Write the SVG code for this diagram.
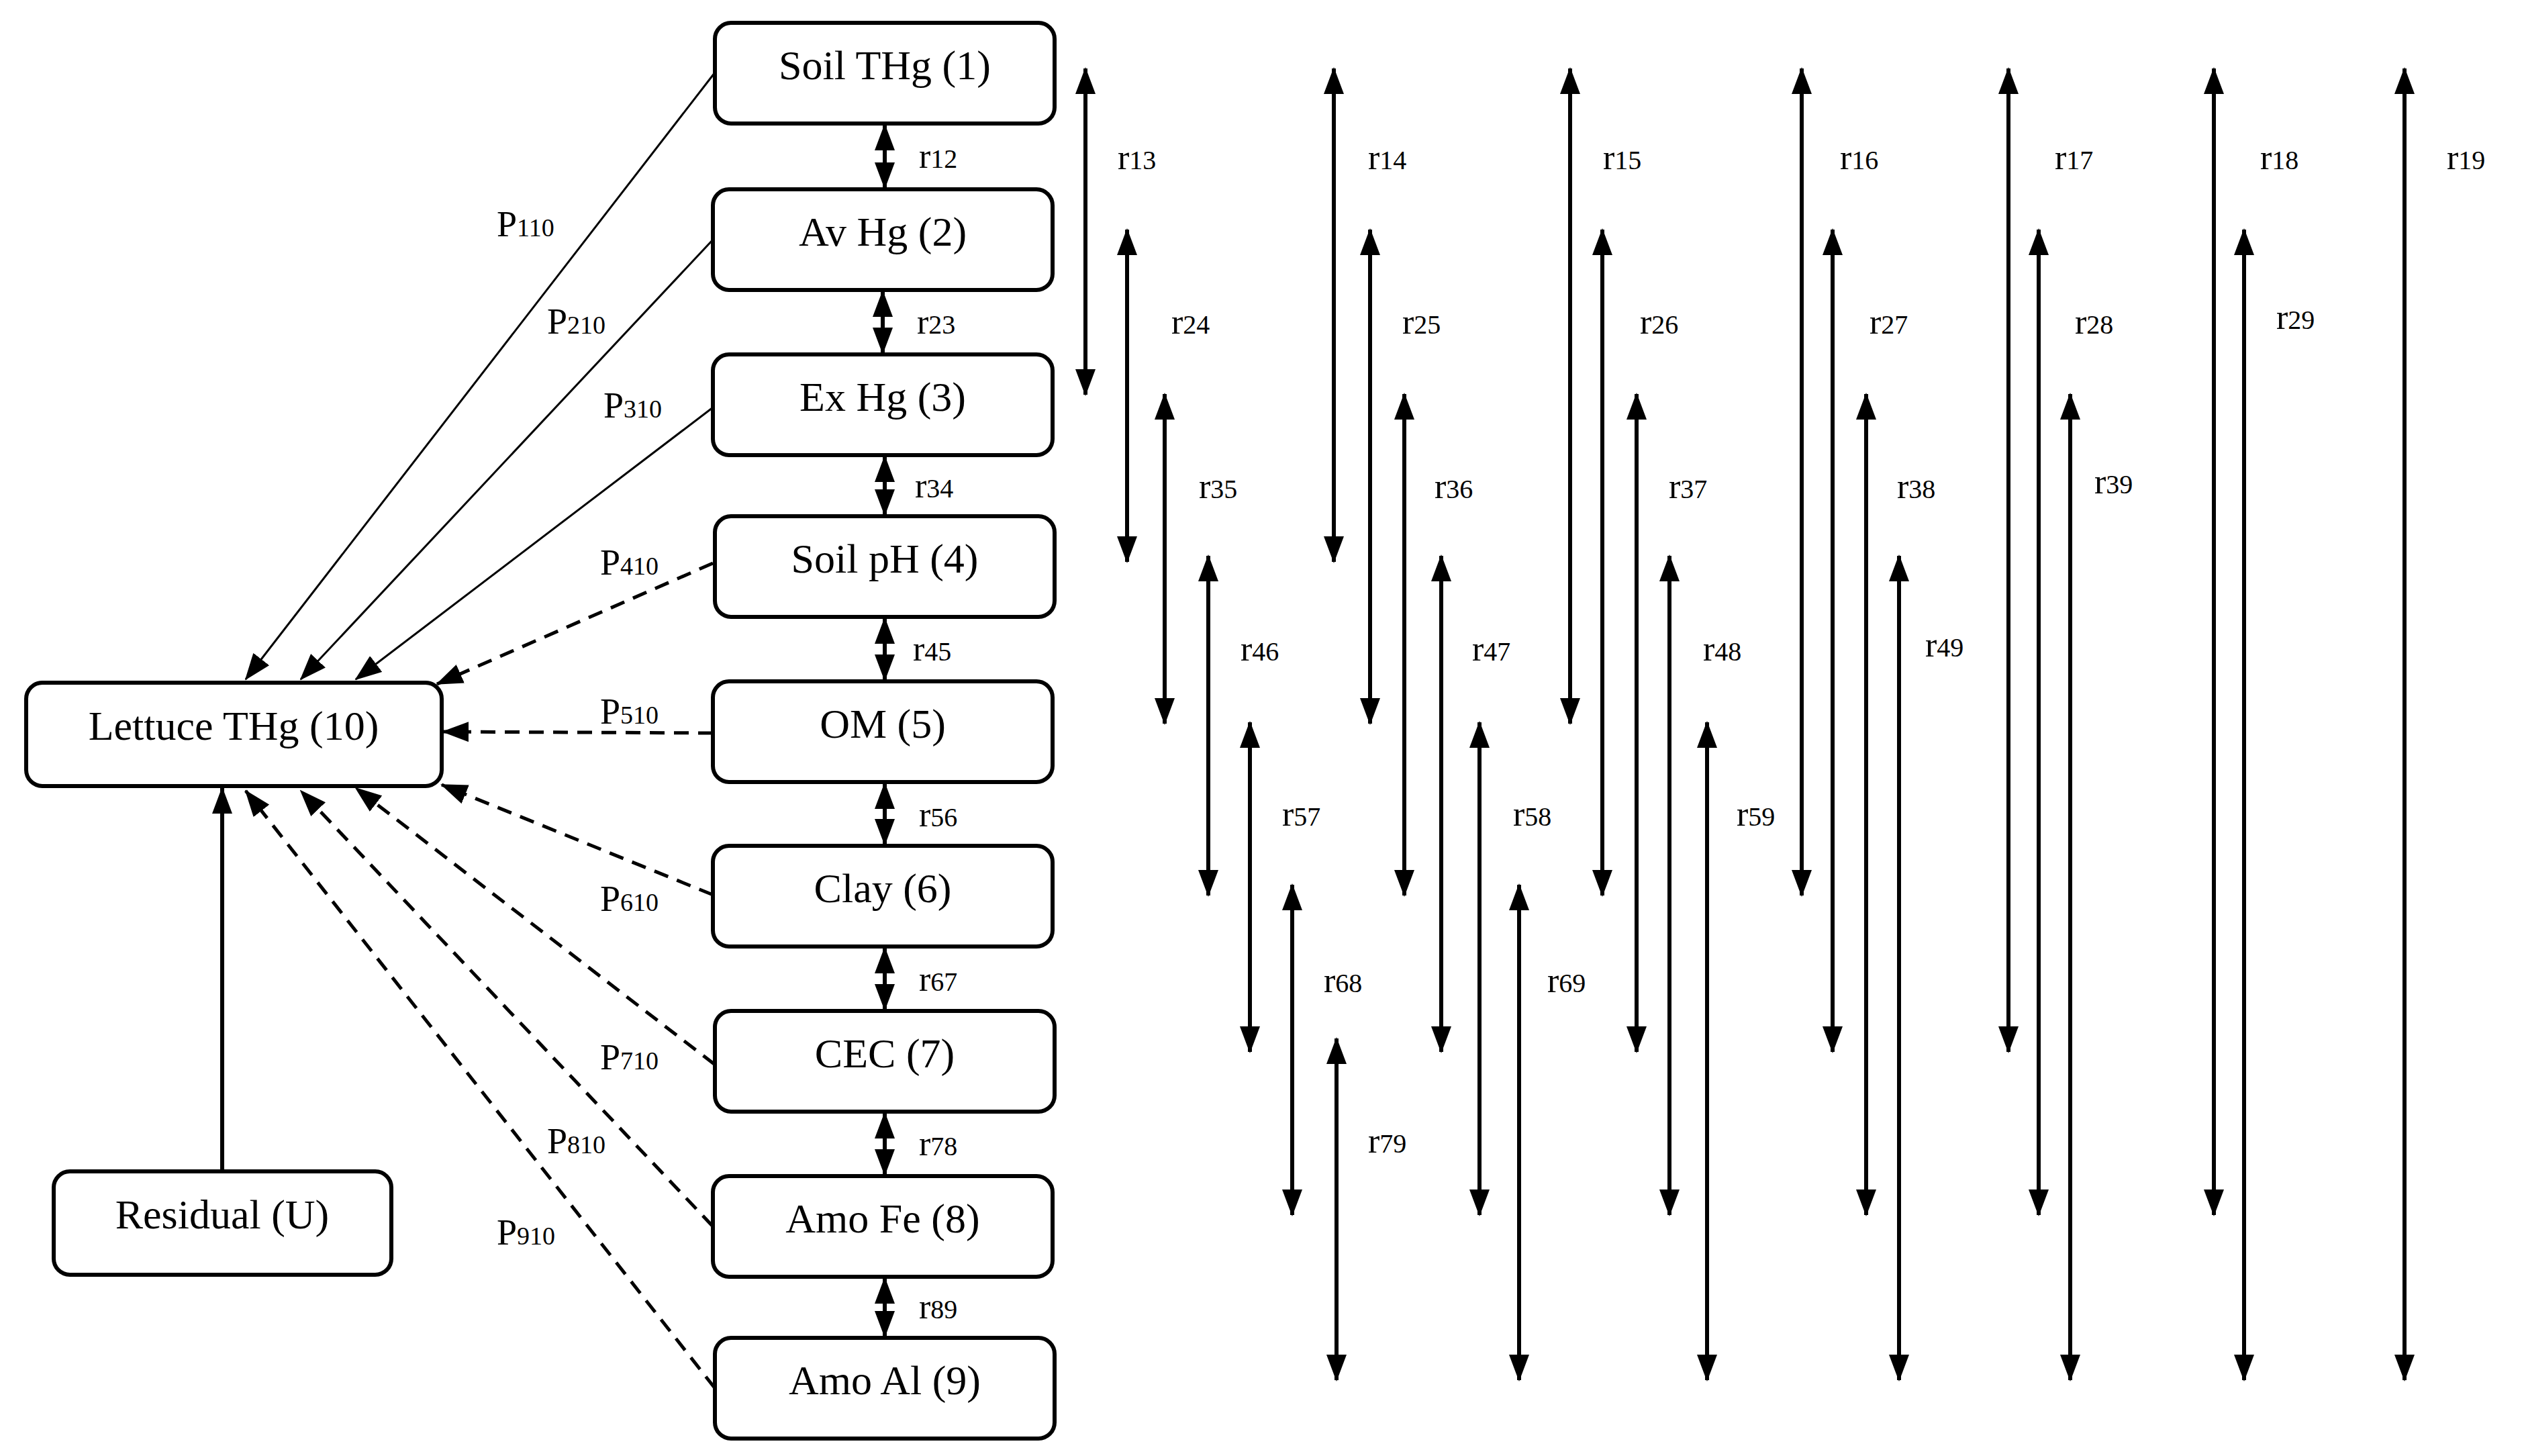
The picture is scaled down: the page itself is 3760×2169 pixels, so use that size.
<svg xmlns="http://www.w3.org/2000/svg" width="3760" height="2169" viewBox="0 0 3760 2169">
<style>
.n rect{fill:#fff;stroke:#000;stroke-width:6}
.n text{font-family:"Liberation Serif",serif;font-size:62px;text-anchor:middle;fill:#000}
.lbl{font-family:"Liberation Serif",serif;font-size:52px;fill:#000}
.lbl tspan{font-size:40px}
.pl{font-family:"Liberation Serif",serif;font-size:54px;fill:#000}
.pl tspan{font-size:38px}
.ar{stroke:#000;stroke-width:6;fill:none;marker-start:url(#ah);marker-end:url(#ah)}
.sl{stroke:#000;stroke-width:3;fill:none;marker-end:url(#ah)}
.dl{stroke:#000;stroke-width:5;stroke-dasharray:22 14;fill:none;marker-end:url(#ah)}
</style>
<defs>
<marker id="ah" viewBox="0 0 40 30" refX="38" refY="15" markerWidth="40" markerHeight="30" orient="auto-start-reverse" markerUnits="userSpaceOnUse"><path d="M0,0 L40,15 L0,30 z" fill="#000"/></marker>
</defs>
<rect width="3760" height="2169" fill="#fff"/>
<g id="n1" class="n"><rect x="1065" y="34" width="506" height="150" rx="24"/><text x="1318" y="118">Soil THg (1)</text></g>
<g id="n2" class="n"><rect x="1062" y="282" width="506" height="150" rx="24"/><text x="1315" y="366">Av Hg (2)</text></g>
<g id="n3" class="n"><rect x="1062" y="528" width="506" height="150" rx="24"/><text x="1315" y="612">Ex Hg (3)</text></g>
<g id="n4" class="n"><rect x="1065" y="769" width="506" height="150" rx="24"/><text x="1318" y="853">Soil pH (4)</text></g>
<g id="n5" class="n"><rect x="1062" y="1015" width="506" height="150" rx="24"/><text x="1315" y="1099">OM (5)</text></g>
<g id="n6" class="n"><rect x="1062" y="1260" width="506" height="150" rx="24"/><text x="1315" y="1344">Clay (6)</text></g>
<g id="n7" class="n"><rect x="1065" y="1506" width="506" height="150" rx="24"/><text x="1318" y="1590">CEC (7)</text></g>
<g id="n8" class="n"><rect x="1062" y="1752" width="506" height="150" rx="24"/><text x="1315" y="1836">Amo Fe (8)</text></g>
<g id="n9" class="n"><rect x="1065" y="1993" width="506" height="150" rx="24"/><text x="1318" y="2077">Amo Al (9)</text></g>
<g id="n10" class="n"><rect x="39" y="1017" width="619" height="154" rx="24"/><text x="348" y="1102">Lettuce THg (10)</text></g>
<g id="nU" class="n"><rect x="80" y="1745" width="503" height="154" rx="24"/><text x="331" y="1830">Residual (U)</text></g>
<g id="connectors">
<line class="sl" x1="1065" y1="108" x2="366" y2="1012"/>
<line class="sl" x1="1062" y1="357" x2="448" y2="1012"/>
<line class="sl" x1="1062" y1="607" x2="530" y2="1012"/>
<line class="dl" x1="1062" y1="839" x2="651" y2="1019"/>
<line class="dl" x1="1062" y1="1092" x2="660" y2="1090"/>
<line class="dl" x1="1062" y1="1333" x2="658" y2="1169"/>
<line class="dl" x1="1065" y1="1586" x2="530" y2="1174"/>
<line class="dl" x1="1062" y1="1827" x2="448" y2="1178"/>
<line class="dl" x1="1065" y1="2068" x2="366" y2="1178"/>
<line class="sl" style="stroke-width:6" x1="331" y1="1745" x2="331" y2="1174"/>
<line class="ar" x1="1318" y1="186" x2="1318" y2="280"/>
<line class="ar" x1="1315" y1="434" x2="1315" y2="526"/>
<line class="ar" x1="1318" y1="680" x2="1318" y2="767"/>
<line class="ar" x1="1318" y1="921" x2="1318" y2="1013"/>
<line class="ar" x1="1318" y1="1167" x2="1318" y2="1258"/>
<line class="ar" x1="1318" y1="1412" x2="1318" y2="1504"/>
<line class="ar" x1="1318" y1="1658" x2="1318" y2="1750"/>
<line class="ar" x1="1318" y1="1904" x2="1318" y2="1991"/>
<line class="ar" x1="1617" y1="102" x2="1617" y2="588"/>
<line class="ar" x1="1987" y1="102" x2="1987" y2="837"/>
<line class="ar" x1="2339" y1="102" x2="2339" y2="1078"/>
<line class="ar" x1="2684" y1="102" x2="2684" y2="1334"/>
<line class="ar" x1="2992" y1="102" x2="2992" y2="1567"/>
<line class="ar" x1="3298" y1="102" x2="3298" y2="1810"/>
<line class="ar" x1="3582" y1="102" x2="3582" y2="2056"/>
<line class="ar" x1="1679" y1="342" x2="1679" y2="837"/>
<line class="ar" x1="2041" y1="342" x2="2041" y2="1078"/>
<line class="ar" x1="2387" y1="342" x2="2387" y2="1334"/>
<line class="ar" x1="2730" y1="342" x2="2730" y2="1567"/>
<line class="ar" x1="3037" y1="342" x2="3037" y2="1810"/>
<line class="ar" x1="3343" y1="342" x2="3343" y2="2056"/>
<line class="ar" x1="1735" y1="587" x2="1735" y2="1078"/>
<line class="ar" x1="2092" y1="587" x2="2092" y2="1334"/>
<line class="ar" x1="2438" y1="587" x2="2438" y2="1567"/>
<line class="ar" x1="2780" y1="587" x2="2780" y2="1810"/>
<line class="ar" x1="3084" y1="587" x2="3084" y2="2056"/>
<line class="ar" x1="1800" y1="828" x2="1800" y2="1334"/>
<line class="ar" x1="2147" y1="828" x2="2147" y2="1567"/>
<line class="ar" x1="2487" y1="828" x2="2487" y2="1810"/>
<line class="ar" x1="2829" y1="828" x2="2829" y2="2056"/>
<line class="ar" x1="1862" y1="1076" x2="1862" y2="1567"/>
<line class="ar" x1="2204" y1="1076" x2="2204" y2="1810"/>
<line class="ar" x1="2543" y1="1076" x2="2543" y2="2056"/>
<line class="ar" x1="1925" y1="1318" x2="1925" y2="1810"/>
<line class="ar" x1="2263" y1="1318" x2="2263" y2="2056"/>
<line class="ar" x1="1991" y1="1547" x2="1991" y2="2056"/>
</g>
<g id="labels">
<text class="lbl" x="1369" y="250">r<tspan>12</tspan></text>
<text class="lbl" x="1366" y="497">r<tspan>23</tspan></text>
<text class="lbl" x="1363" y="741">r<tspan>34</tspan></text>
<text class="lbl" x="1360" y="984">r<tspan>45</tspan></text>
<text class="lbl" x="1369" y="1231">r<tspan>56</tspan></text>
<text class="lbl" x="1369" y="1476">r<tspan>67</tspan></text>
<text class="lbl" x="1369" y="1721">r<tspan>78</tspan></text>
<text class="lbl" x="1369" y="1964">r<tspan>89</tspan></text>
<text class="lbl" x="1665" y="252">r<tspan>13</tspan></text>
<text class="lbl" x="2038" y="252">r<tspan>14</tspan></text>
<text class="lbl" x="2388" y="252">r<tspan>15</tspan></text>
<text class="lbl" x="2741" y="252">r<tspan>16</tspan></text>
<text class="lbl" x="3061" y="252">r<tspan>17</tspan></text>
<text class="lbl" x="3367" y="252">r<tspan>18</tspan></text>
<text class="lbl" x="3645" y="252">r<tspan>19</tspan></text>
<text class="lbl" x="1745" y="497">r<tspan>24</tspan></text>
<text class="lbl" x="2089" y="497">r<tspan>25</tspan></text>
<text class="lbl" x="2443" y="497">r<tspan>26</tspan></text>
<text class="lbl" x="2785" y="497">r<tspan>27</tspan></text>
<text class="lbl" x="3091" y="497">r<tspan>28</tspan></text>
<text class="lbl" x="3391" y="490">r<tspan>29</tspan></text>
<text class="lbl" x="1786" y="742">r<tspan>35</tspan></text>
<text class="lbl" x="2137" y="742">r<tspan>36</tspan></text>
<text class="lbl" x="2486" y="742">r<tspan>37</tspan></text>
<text class="lbl" x="2826" y="742">r<tspan>38</tspan></text>
<text class="lbl" x="3120" y="735">r<tspan>39</tspan></text>
<text class="lbl" x="1848" y="984">r<tspan>46</tspan></text>
<text class="lbl" x="2193" y="984">r<tspan>47</tspan></text>
<text class="lbl" x="2537" y="984">r<tspan>48</tspan></text>
<text class="lbl" x="2868" y="978">r<tspan>49</tspan></text>
<text class="lbl" x="1910" y="1230">r<tspan>57</tspan></text>
<text class="lbl" x="2254" y="1230">r<tspan>58</tspan></text>
<text class="lbl" x="2587" y="1230">r<tspan>59</tspan></text>
<text class="lbl" x="1972" y="1478">r<tspan>68</tspan></text>
<text class="lbl" x="2305" y="1478">r<tspan>69</tspan></text>
<text class="lbl" x="2038" y="1717">r<tspan>79</tspan></text>
<text class="pl" x="740" y="352">P<tspan>110</tspan></text>
<text class="pl" x="815" y="497">P<tspan>210</tspan></text>
<text class="pl" x="899" y="622">P<tspan>310</tspan></text>
<text class="pl" x="894" y="856">P<tspan>410</tspan></text>
<text class="pl" x="894" y="1078">P<tspan>510</tspan></text>
<text class="pl" x="894" y="1357">P<tspan>610</tspan></text>
<text class="pl" x="894" y="1593">P<tspan>710</tspan></text>
<text class="pl" x="815" y="1718">P<tspan>810</tspan></text>
<text class="pl" x="740" y="1854">P<tspan>910</tspan></text>
</g>
</svg>
